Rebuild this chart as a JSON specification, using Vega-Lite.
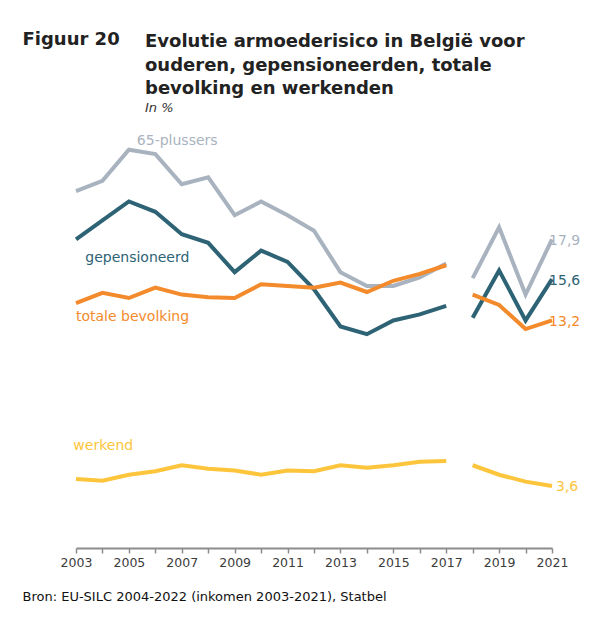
{
  "$schema": "https://vega.github.io/schema/vega-lite/v6.json",
  "width": 476,
  "height": 431,
  "padding": {"left": 22, "top": 30, "right": 10, "bottom": 10},
  "background": "white",
  "title": {
    "text": ["Evolutie armoederisico in België voor", "ouderen, gepensioneerden, totale", "bevolking en werkenden"],
    "subtitle": "In %",
    "anchor": "start",
    "frame": "group",
    "dx": 69,
    "offset": -85,
    "font": "DejaVu Sans",
    "fontSize": 18,
    "fontWeight": "bold",
    "color": "#222222",
    "lineHeight": 23.5,
    "subtitleFont": "DejaVu Sans",
    "subtitleFontSize": 13,
    "subtitleFontStyle": "italic",
    "subtitleColor": "#333333",
    "subtitlePadding": 4
  },
  "config": {
    "view": {"stroke": null},
    "font": "DejaVu Sans"
  },
  "datasets": {
    "series": [
      {"year": 2003, "value": 20.7, "series": "65-plussers", "period": "a"},
      {"year": 2004, "value": 21.3, "series": "65-plussers", "period": "a"},
      {"year": 2005, "value": 23.1, "series": "65-plussers", "period": "a"},
      {"year": 2006, "value": 22.85, "series": "65-plussers", "period": "a"},
      {"year": 2007, "value": 21.1, "series": "65-plussers", "period": "a"},
      {"year": 2008, "value": 21.5, "series": "65-plussers", "period": "a"},
      {"year": 2009, "value": 19.3, "series": "65-plussers", "period": "a"},
      {"year": 2010, "value": 20.1, "series": "65-plussers", "period": "a"},
      {"year": 2011, "value": 19.3, "series": "65-plussers", "period": "a"},
      {"year": 2012, "value": 18.4, "series": "65-plussers", "period": "a"},
      {"year": 2013, "value": 16.0, "series": "65-plussers", "period": "a"},
      {"year": 2014, "value": 15.2, "series": "65-plussers", "period": "a"},
      {"year": 2015, "value": 15.2, "series": "65-plussers", "period": "a"},
      {"year": 2016, "value": 15.7, "series": "65-plussers", "period": "a"},
      {"year": 2017, "value": 16.5, "series": "65-plussers", "period": "a"},
      {"year": 2018, "value": 15.65, "series": "65-plussers", "period": "b"},
      {"year": 2019, "value": 18.6, "series": "65-plussers", "period": "b"},
      {"year": 2020, "value": 14.7, "series": "65-plussers", "period": "b"},
      {"year": 2021, "value": 17.9, "series": "65-plussers", "period": "b"},
      {"year": 2003, "value": 17.9, "series": "gepensioneerd", "period": "a"},
      {"year": 2004, "value": 19.0, "series": "gepensioneerd", "period": "a"},
      {"year": 2005, "value": 20.1, "series": "gepensioneerd", "period": "a"},
      {"year": 2006, "value": 19.5, "series": "gepensioneerd", "period": "a"},
      {"year": 2007, "value": 18.2, "series": "gepensioneerd", "period": "a"},
      {"year": 2008, "value": 17.7, "series": "gepensioneerd", "period": "a"},
      {"year": 2009, "value": 16.0, "series": "gepensioneerd", "period": "a"},
      {"year": 2010, "value": 17.25, "series": "gepensioneerd", "period": "a"},
      {"year": 2011, "value": 16.6, "series": "gepensioneerd", "period": "a"},
      {"year": 2012, "value": 15.0, "series": "gepensioneerd", "period": "a"},
      {"year": 2013, "value": 12.85, "series": "gepensioneerd", "period": "a"},
      {"year": 2014, "value": 12.4, "series": "gepensioneerd", "period": "a"},
      {"year": 2015, "value": 13.2, "series": "gepensioneerd", "period": "a"},
      {"year": 2016, "value": 13.55, "series": "gepensioneerd", "period": "a"},
      {"year": 2017, "value": 14.05, "series": "gepensioneerd", "period": "a"},
      {"year": 2018, "value": 13.35, "series": "gepensioneerd", "period": "b"},
      {"year": 2019, "value": 16.1, "series": "gepensioneerd", "period": "b"},
      {"year": 2020, "value": 13.2, "series": "gepensioneerd", "period": "b"},
      {"year": 2021, "value": 15.6, "series": "gepensioneerd", "period": "b"},
      {"year": 2003, "value": 14.2, "series": "totale bevolking", "period": "a"},
      {"year": 2004, "value": 14.8, "series": "totale bevolking", "period": "a"},
      {"year": 2005, "value": 14.5, "series": "totale bevolking", "period": "a"},
      {"year": 2006, "value": 15.1, "series": "totale bevolking", "period": "a"},
      {"year": 2007, "value": 14.7, "series": "totale bevolking", "period": "a"},
      {"year": 2008, "value": 14.55, "series": "totale bevolking", "period": "a"},
      {"year": 2009, "value": 14.5, "series": "totale bevolking", "period": "a"},
      {"year": 2010, "value": 15.3, "series": "totale bevolking", "period": "a"},
      {"year": 2011, "value": 15.2, "series": "totale bevolking", "period": "a"},
      {"year": 2012, "value": 15.1, "series": "totale bevolking", "period": "a"},
      {"year": 2013, "value": 15.4, "series": "totale bevolking", "period": "a"},
      {"year": 2014, "value": 14.85, "series": "totale bevolking", "period": "a"},
      {"year": 2015, "value": 15.5, "series": "totale bevolking", "period": "a"},
      {"year": 2016, "value": 15.9, "series": "totale bevolking", "period": "a"},
      {"year": 2017, "value": 16.4, "series": "totale bevolking", "period": "a"},
      {"year": 2018, "value": 14.7, "series": "totale bevolking", "period": "b"},
      {"year": 2019, "value": 14.1, "series": "totale bevolking", "period": "b"},
      {"year": 2020, "value": 12.7, "series": "totale bevolking", "period": "b"},
      {"year": 2021, "value": 13.2, "series": "totale bevolking", "period": "b"},
      {"year": 2003, "value": 4.0, "series": "werkend", "period": "a"},
      {"year": 2004, "value": 3.9, "series": "werkend", "period": "a"},
      {"year": 2005, "value": 4.25, "series": "werkend", "period": "a"},
      {"year": 2006, "value": 4.45, "series": "werkend", "period": "a"},
      {"year": 2007, "value": 4.8, "series": "werkend", "period": "a"},
      {"year": 2008, "value": 4.6, "series": "werkend", "period": "a"},
      {"year": 2009, "value": 4.5, "series": "werkend", "period": "a"},
      {"year": 2010, "value": 4.25, "series": "werkend", "period": "a"},
      {"year": 2011, "value": 4.5, "series": "werkend", "period": "a"},
      {"year": 2012, "value": 4.45, "series": "werkend", "period": "a"},
      {"year": 2013, "value": 4.8, "series": "werkend", "period": "a"},
      {"year": 2014, "value": 4.65, "series": "werkend", "period": "a"},
      {"year": 2015, "value": 4.8, "series": "werkend", "period": "a"},
      {"year": 2016, "value": 5.0, "series": "werkend", "period": "a"},
      {"year": 2017, "value": 5.05, "series": "werkend", "period": "a"},
      {"year": 2018, "value": 4.8, "series": "werkend", "period": "b"},
      {"year": 2019, "value": 4.25, "series": "werkend", "period": "b"},
      {"year": 2020, "value": 3.85, "series": "werkend", "period": "b"},
      {"year": 2021, "value": 3.6, "series": "werkend", "period": "b"}
    ],
    "labels": [
      {"label": "65-plussers", "year": 2005.3, "value": 23.6, "series": "65-plussers"},
      {"label": "gepensioneerd", "year": 2003.35, "value": 16.85, "series": "gepensioneerd"},
      {"label": "totale bevolking", "year": 2003.0, "value": 13.4, "series": "totale bevolking"},
      {"label": "werkend", "year": 2002.9, "value": 5.9, "series": "werkend"},
      {"label": "17,9", "year": 2020.89, "value": 17.8, "series": "65-plussers"},
      {"label": "15,6", "year": 2020.89, "value": 15.5, "series": "gepensioneerd"},
      {"label": "13,2", "year": 2020.89, "value": 13.1, "series": "totale bevolking"},
      {"label": "3,6", "year": 2021.15, "value": 3.55, "series": "werkend"}
    ]
  },
  "encoding": {
    "x": {
      "field": "year",
      "type": "quantitative",
      "scale": {"domain": [2003, 2021], "nice": false, "zero": false},
      "axis": {
        "values": [2003, 2004, 2005, 2006, 2007, 2008, 2009, 2010, 2011, 2012, 2013, 2014, 2015, 2016, 2017, 2018, 2019, 2020, 2021],
        "format": "d",
        "labelExpr": "datum.value % 2 == 1 ? datum.label : ''",
        "grid": false,
        "domainColor": "#8c8c8c",
        "domainWidth": 2,
        "tickColor": "#8c8c8c",
        "tickWidth": 1.5,
        "tickSize": 5,
        "labelFont": "DejaVu Sans",
        "labelFontSize": 12.5,
        "labelColor": "#3c3c3c",
        "labelPadding": 3,
        "labelOverlap": false,
        "labelFlush": false,
        "title": "Bron: EU-SILC 2004-2022 (inkomen 2003-2021), Statbel",
        "titleFont": "DejaVu Sans",
        "titleFontSize": 13,
        "titleFontWeight": "normal",
        "titleColor": "#111111",
        "titleAnchor": "start",
        "titleAlign": "left",
        "titleBaseline": "alphabetic",
        "titleX": -54,
        "titleY": 52
      }
    },
    "y": {
      "field": "value",
      "type": "quantitative",
      "scale": {"domain": [0, 25], "nice": false},
      "axis": {
        "domain": false,
        "ticks": false,
        "labels": false,
        "grid": false,
        "title": "Figuur 20",
        "titleFont": "DejaVu Sans",
        "titleFontSize": 18,
        "titleFontWeight": "bold",
        "titleColor": "#222222",
        "titleAngle": 0,
        "titleAlign": "left",
        "titleBaseline": "alphabetic",
        "titleX": -54,
        "titleY": -73
      }
    },
    "color": {
      "field": "series",
      "type": "nominal",
      "scale": {
        "domain": ["65-plussers", "gepensioneerd", "totale bevolking", "werkend"],
        "range": ["#A9B3BF", "#2D6374", "#F38A2B", "#FDC53C"]
      },
      "legend": null
    }
  },
  "layer": [
    {
      "data": {"name": "series"},
      "mark": {"type": "line", "strokeWidth": 4, "strokeJoin": "miter", "strokeCap": "butt"},
      "encoding": {
        "detail": {"field": "period", "type": "nominal"}
      }
    },
    {
      "data": {"name": "labels"},
      "mark": {"type": "text", "align": "left", "baseline": "middle", "font": "DejaVu Sans", "fontSize": 14},
      "encoding": {
        "text": {"field": "label", "type": "nominal"}
      }
    }
  ]
}
